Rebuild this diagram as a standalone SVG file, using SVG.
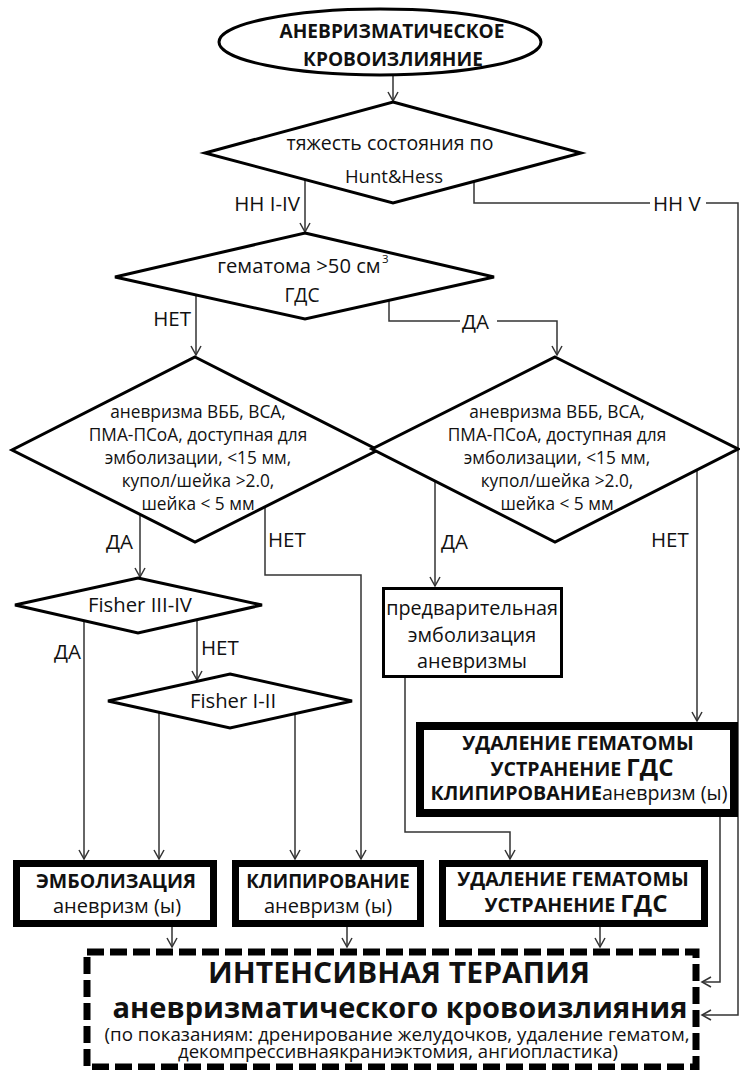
<svg xmlns="http://www.w3.org/2000/svg" width="740" height="1070" viewBox="0 0 740 1070">
<style>
.shape{fill:#fff;stroke:#000;stroke-width:3}
.thick{fill:#fff;stroke:#000;stroke-width:7}
.dash{fill:#fff;stroke:#000;stroke-width:7;stroke-dasharray:17 6}
.conn{fill:none;stroke:#333;stroke-width:1.5}
.t{font-family:"Open Sans","Liberation Sans",sans-serif;fill:#111}
.c{text-anchor:middle}
.b{font-weight:700}
.lbl{font-size:20.5px}
.dt{font-size:17.3px}
</style>
<defs>
<marker id="ah" markerWidth="12" markerHeight="12" refX="10" refY="6" orient="auto" markerUnits="userSpaceOnUse">
<path d="M1,1 L10,6 L1,11" fill="none" stroke="#333" stroke-width="1.5"/>
</marker>
</defs>
<rect width="740" height="1070" fill="#fff"/>

<g id="connectors">
<path class="conn" d="M393,75 L393,101" marker-end="url(#ah)"/>
<path class="conn" d="M305,180 L305,232" marker-end="url(#ah)"/>
<path class="conn" d="M474,181 L474,203 L650,203"/>
<path class="conn" d="M706,203 L738,203 L738,1015 L702,1015" marker-end="url(#ah)"/>
<path class="conn" d="M196,295 L196,355" marker-end="url(#ah)"/>
<path class="conn" d="M389,300 L389,321 L460,321"/>
<path class="conn" d="M497,321 L557,321 L557,355" marker-end="url(#ah)"/>
<path class="conn" d="M140,514 L140,577" marker-end="url(#ah)"/>
<path class="conn" d="M265,507 L265,575 L361,575 L361,859" marker-end="url(#ah)"/>
<path class="conn" d="M435,480 L435,586" marker-end="url(#ah)"/>
<path class="conn" d="M697,470 L697,721" marker-end="url(#ah)"/>
<path class="conn" d="M84,621 L84,859" marker-end="url(#ah)"/>
<path class="conn" d="M197,620 L197,680" marker-end="url(#ah)"/>
<path class="conn" d="M159,712 L159,859" marker-end="url(#ah)"/>
<path class="conn" d="M295,714 L295,859" marker-end="url(#ah)"/>
<path class="conn" d="M405,678 L405,832 L510,832 L510,859" marker-end="url(#ah)"/>
<path class="conn" d="M172,927 L172,947" marker-end="url(#ah)"/>
<path class="conn" d="M347,927 L347,947" marker-end="url(#ah)"/>
<path class="conn" d="M600,927 L600,947" marker-end="url(#ah)"/>
<path class="conn" d="M720,817 L720,982 L702,982" marker-end="url(#ah)"/>
<text class="t lbl" x="300" y="211" text-anchor="end">НН I-IV</text>
<text class="t lbl" x="653" y="211">НН V</text>
<text class="t lbl" x="462" y="329">ДА</text>
<text class="t lbl" x="191" y="326" text-anchor="end">НЕТ</text>
<text class="t lbl" x="133" y="549" text-anchor="end">ДА</text>
<text class="t lbl" x="268" y="547">НЕТ</text>
<text class="t lbl" x="441" y="549">ДА</text>
<text class="t lbl" x="651" y="547">НЕТ</text>
<text class="t lbl" x="81" y="659" text-anchor="end">ДА</text>
<text class="t lbl" x="201" y="655">НЕТ</text>
</g>

<g id="start">
<ellipse class="shape" cx="380" cy="42" rx="161" ry="33"/>
<text class="t b c" x="392" y="38" font-size="19.1">АНЕВРИЗМАТИЧЕСКОЕ</text>
<text class="t b c" x="393" y="66" font-size="19.1">КРОВОИЗЛИЯНИЕ</text>
</g>

<g id="hunthess">
<polygon class="shape" points="393,102 581,153 393,203 205,153"/>
<text class="t c" x="390" y="150" font-size="19.5">тяжесть состояния по</text>
<text class="t c" x="394" y="183" font-size="18.5">Hunt&amp;Hess</text>
</g>

<g id="hematoma">
<polygon class="shape" points="305,233 494,277 305,319 115,277"/>
<text class="t c" x="299" y="273" font-size="20.2">гематома &gt;50 см</text>
<text class="t" x="382" y="263" font-size="11.5">3</text>
<text class="t c" x="302" y="302" font-size="19.2">ГДС</text>
</g>

<g id="anevrizma-left">
<polygon class="shape" points="195,357 378,450 195,542 12,450"/>
<text class="t c dt" x="198" y="418">аневризма ВББ, ВСА,</text>
<text class="t c dt" x="198" y="441">ПМА-ПСоА, доступная для</text>
<text class="t c dt" x="198" y="464">эмболизации, &lt;15 мм,</text>
<text class="t c dt" x="198" y="487">купол/шейка &gt;2.0,</text>
<text class="t c dt" x="198" y="510">шейка &lt; 5 мм</text>
</g>

<g id="anevrizma-right">
<polygon class="shape" points="555,357 738,449 555,542 372,449"/>
<text class="t c dt" x="557" y="418">аневризма ВББ, ВСА,</text>
<text class="t c dt" x="557" y="441">ПМА-ПСоА, доступная для</text>
<text class="t c dt" x="557" y="464">эмболизации, &lt;15 мм,</text>
<text class="t c dt" x="557" y="487">купол/шейка &gt;2.0,</text>
<text class="t c dt" x="557" y="510">шейка &lt; 5 мм</text>
</g>

<g id="fisher34">
<polygon class="shape" points="138,578 262,605 138,633 15,605"/>
<text class="t c" x="140" y="612" font-size="20.3">Fisher III-IV</text>
</g>

<g id="fisher12">
<polygon class="shape" points="230,674 352,701 230,728 108,701"/>
<text class="t c" x="233" y="708" font-size="20.3">Fisher I-II</text>
</g>

<g id="pre-embolization">
<rect class="shape" x="383.5" y="588.5" width="178" height="88"/>
<text class="t c" x="472" y="615" font-size="19.8">предварительная</text>
<text class="t c" x="472" y="642" font-size="19.8">эмболизация</text>
<text class="t c" x="472" y="668" font-size="19.8">аневризмы</text>
</g>

<g id="removal-clipping">
<rect class="shape" x="420" y="726" width="314" height="87" style="stroke-width:8"/>
<text class="t b c" x="578" y="750" font-size="19.6">УДАЛЕНИЕ ГЕМАТОМЫ</text>
<text class="t b c" x="582" y="776" font-size="19.6">УСТРАНЕНИЕ <tspan font-size="24">ГДС</tspan></text>
<text class="t c" x="579" y="800" font-size="19.6"><tspan class="b">КЛИПИРОВАНИЕ</tspan>аневризм (ы)</text>
</g>

<g id="embolization">
<rect class="thick" x="16.5" y="863.5" width="197" height="60"/>
<text class="t b c" x="116" y="888" font-size="19.5">ЭМБОЛИЗАЦИЯ</text>
<text class="t c" x="117" y="913" font-size="20">аневризм (ы)</text>
</g>

<g id="clipping">
<rect class="thick" x="235.5" y="863.5" width="185" height="60"/>
<text class="t b c" x="328" y="888" font-size="18.7">КЛИПИРОВАНИЕ</text>
<text class="t c" x="328" y="913" font-size="20">аневризм (ы)</text>
</g>

<g id="removal">
<rect class="thick" x="442.5" y="863.5" width="262" height="60"/>
<text class="t b c" x="573" y="886" font-size="19.6">УДАЛЕНИЕ ГЕМАТОМЫ</text>
<text class="t b c" x="576" y="912" font-size="19.6">УСТРАНЕНИЕ <tspan font-size="24">ГДС</tspan></text>
</g>

<g id="intensive-care">
<rect class="dash" x="87" y="952" width="609" height="115"/>
<text class="t b c" x="399" y="983" font-size="29" textLength="382" lengthAdjust="spacingAndGlyphs">ИНТЕНСИВНАЯ ТЕРАПИЯ</text>
<text class="t b c" x="400" y="1018" font-size="29" textLength="575" lengthAdjust="spacingAndGlyphs">аневризматического кровоизлияния</text>
<text class="t c" x="397" y="1041" font-size="18" textLength="585" lengthAdjust="spacingAndGlyphs">(по показаниям: дренирование желудочков, удаление гематом,</text>
<text class="t c" x="398" y="1058" font-size="18" textLength="440" lengthAdjust="spacingAndGlyphs">декомпрессивнаякраниэктомия, ангиопластика)</text>
</g>
</svg>
